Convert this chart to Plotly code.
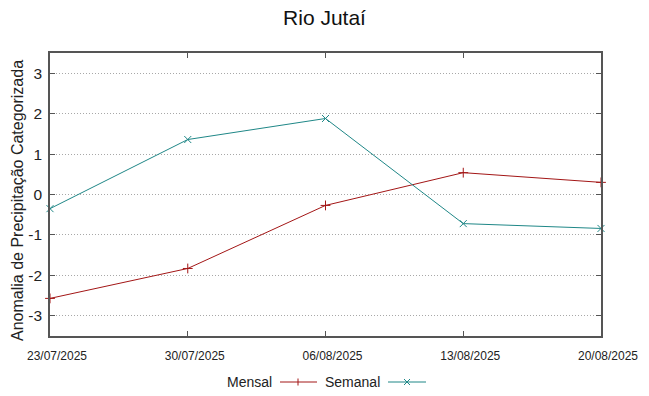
import plotly.graph_objects as go

dates = ["2025-07-23", "2025-07-30", "2025-08-06", "2025-08-13", "2025-08-20"]
mensal = [-2.57, -1.83, -0.27, 0.54, 0.30]
semanal = [-0.35, 1.36, 1.88, -0.72, -0.84]
tick_vals = [-3, -2, -1, 0, 1, 2, 3]
tick_text = ["-3", "-2", "-1", "0", "1", "2", "3"]

RED = "#a31616"
TEAL = "#1f8787"
AX = "#555555"
FONT = "Liberation Sans, Arial, sans-serif"

fig = go.Figure()
fig.add_trace(go.Scatter(x=dates, y=mensal, mode="lines+markers", name="Mensal",
                         line=dict(color=RED, width=1),
                         marker=dict(symbol="cross-thin", size=7, line=dict(color=RED, width=1)),
                         showlegend=False, cliponaxis=False))
fig.add_trace(go.Scatter(x=dates, y=semanal, mode="lines+markers", name="Semanal",
                         line=dict(color=TEAL, width=1),
                         marker=dict(symbol="x-thin", size=7, line=dict(color=TEAL, width=1)),
                         showlegend=False, cliponaxis=False))

# plot area in pixels: x 50..601, y 53..336
W, H = 551.0, 283.0
def px(x):
    return (x - 50) / W
def py(y):
    return (336 - y) / H

ly = py(382)
annotations = [
    dict(text="Mensal", x=px(274), y=ly, xref="paper", yref="paper", xanchor="right", yanchor="middle",
         showarrow=False, font=dict(size=14, color="#222222", family=FONT)),
    dict(text="Semanal", x=px(382), y=ly, xref="paper", yref="paper", xanchor="right", yanchor="middle",
         showarrow=False, font=dict(size=14, color="#222222", family=FONT)),
    dict(text="Anomalia de Precipitação Categorizada", x=px(18), y=py(201), xref="paper", yref="paper",
         xanchor="center", yanchor="middle", textangle=-90, showarrow=False,
         font=dict(size=16, color="#222222", family=FONT)),
]
shapes = [
    dict(type="line", xref="paper", yref="paper", x0=px(280), x1=px(317), y0=ly, y1=ly,
         line=dict(color=RED, width=1)),
    dict(type="line", xref="paper", yref="paper", xsizemode="pixel", ysizemode="pixel",
         xanchor=px(298), yanchor=ly, x0=0, x1=0, y0=-3.5, y1=3.5, line=dict(color=RED, width=1)),
    dict(type="line", xref="paper", yref="paper", x0=px(388), x1=px(426), y0=ly, y1=ly,
         line=dict(color=TEAL, width=1)),
    dict(type="line", xref="paper", yref="paper", xsizemode="pixel", ysizemode="pixel",
         xanchor=px(407), yanchor=ly, x0=-3, x1=3, y0=-3, y1=3, line=dict(color=TEAL, width=1)),
    dict(type="line", xref="paper", yref="paper", xsizemode="pixel", ysizemode="pixel",
         xanchor=px(407), yanchor=ly, x0=-3, x1=3, y0=3, y1=-3, line=dict(color=TEAL, width=1)),
]

fig.update_layout(
    width=649, height=396,
    margin=dict(l=50, r=48, t=53, b=60, autoexpand=False),
    paper_bgcolor="white", plot_bgcolor="white",
    font=dict(family=FONT, color="#222222"),
    title=dict(text="Rio Jutaí", x=0.5, xanchor="center", y=1 - 18 / 396, yanchor="middle",
               font=dict(size=21, family=FONT, color="#111111"), automargin=False),
    annotations=annotations, shapes=shapes,
    showlegend=False,
)
fig.update_xaxes(
    type="date", range=[dates[0], dates[-1]], tickvals=dates, tickformat="%d/%m/%Y",
    ticks="inside", ticklen=5, tickcolor=AX, showline=True, linecolor=AX, linewidth=1.5, mirror="ticks",
    showgrid=False, zeroline=False, tickfont=dict(size=12, family=FONT, color="#222222"),
    ticklabelstandoff=8, ticklabelshift=7, automargin=False,
)
fig.update_yaxes(
    range=[-3.5, 3.5], tickvals=tick_vals, ticktext=tick_text,
    ticks="inside", ticklen=5, tickcolor=AX, showline=True, linecolor=AX, linewidth=1.5, mirror="ticks",
    showgrid=True, gridcolor="#a8a8a8", griddash="1px,2px", gridwidth=1, zeroline=False,
    tickfont=dict(size=15.5, family=FONT, color="#222222"), ticklabelstandoff=3, automargin=False,
)

fig.write_html("out.html", config={"displayModeBar": False},
               post_script="document.body.style.margin='0';document.body.style.overflow='hidden';")
